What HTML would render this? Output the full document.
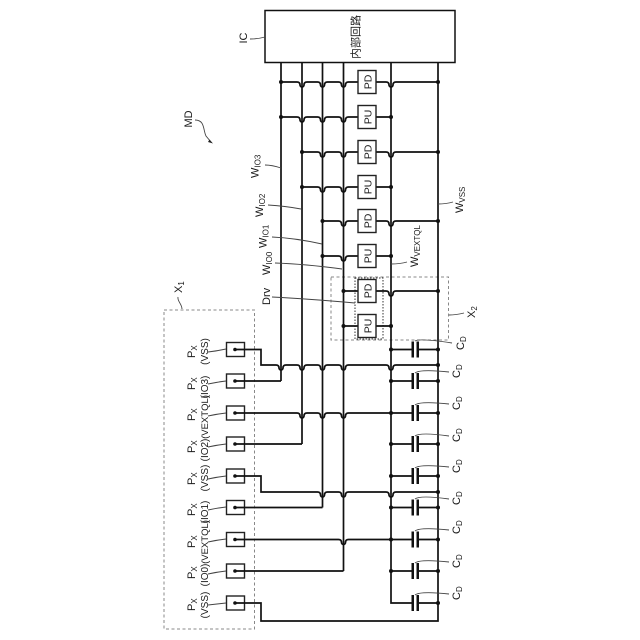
<!DOCTYPE html>
<html><head><meta charset="utf-8"><style>
html,body{margin:0;padding:0;background:#fff}
svg{display:block}
text{font-family:"Liberation Sans","Noto Sans CJK JP",sans-serif;fill:#1a1a1a;font-size:11px}
tspan.s{font-size:8px}
text.b{font-size:10.5px}
text.p{font-size:10px}
</style></head><body>
<svg width="640" height="640" viewBox="0 0 640 640" xmlns="http://www.w3.org/2000/svg">
<rect width="640" height="640" fill="#fff"/>
<!-- dashed -->
<g fill="none">
<rect x="164" y="310" width="90.5" height="319" stroke="#888" stroke-width="1" stroke-dasharray="3 2.5"/>
<rect x="331" y="277" width="117.5" height="63" stroke="#888" stroke-width="1" stroke-dasharray="3 2.5"/>
<rect x="355" y="278" width="28" height="61" stroke="#333" stroke-width="1" stroke-dasharray="1.5 1.5"/>
</g>
<!-- wires -->
<g fill="none" stroke="#111" stroke-width="1.7">
<path d="M281,62V381M302,62V444M322.500,62V507.500M343.500,62V571M391,62V603H412M438,62V621H261V603H235"/>
<path d="M281,82H297q3,0 3,3a2,2 0 0 0 4,0q0,-3 3,-3H317.500q3,0 3,3a2,2 0 0 0 4,0q0,-3 3,-3H338.500q3,0 3,3a2,2 0 0 0 4,0q0,-3 3,-3H358M376,82H386q3,0 3,3a2,2 0 0 0 4,0q0,-3 3,-3H438"/>
<path d="M281,117H297q3,0 3,3a2,2 0 0 0 4,0q0,-3 3,-3H317.500q3,0 3,3a2,2 0 0 0 4,0q0,-3 3,-3H338.500q3,0 3,3a2,2 0 0 0 4,0q0,-3 3,-3H358M376,117H391"/>
<path d="M302,152H317.500q3,0 3,3a2,2 0 0 0 4,0q0,-3 3,-3H338.500q3,0 3,3a2,2 0 0 0 4,0q0,-3 3,-3H358M376,152H386q3,0 3,3a2,2 0 0 0 4,0q0,-3 3,-3H438"/>
<path d="M302,187H317.500q3,0 3,3a2,2 0 0 0 4,0q0,-3 3,-3H338.500q3,0 3,3a2,2 0 0 0 4,0q0,-3 3,-3H358M376,187H391"/>
<path d="M322.500,221H338.500q3,0 3,3a2,2 0 0 0 4,0q0,-3 3,-3H358M376,221H386q3,0 3,3a2,2 0 0 0 4,0q0,-3 3,-3H438"/>
<path d="M322.500,256H338.500q3,0 3,3a2,2 0 0 0 4,0q0,-3 3,-3H358M376,256H391"/>
<path d="M343.500,291H358M376,291H386q3,0 3,3a2,2 0 0 0 4,0q0,-3 3,-3H438"/>
<path d="M343.500,326H358M376,326H391"/>
<!-- pad wires -->
<path d="M235,349.500H261V365H276q3,0 3,3a2,2 0 0 0 4,0q0,-3 3,-3H297q3,0 3,3a2,2 0 0 0 4,0q0,-3 3,-3H317.500q3,0 3,3a2,2 0 0 0 4,0q0,-3 3,-3H338.500q3,0 3,3a2,2 0 0 0 4,0q0,-3 3,-3H386q3,0 3,3a2,2 0 0 0 4,0q0,-3 3,-3H438"/>
<path d="M235,381H281"/>
<path d="M235,413H297q3,0 3,3a2,2 0 0 0 4,0q0,-3 3,-3H317.500q3,0 3,3a2,2 0 0 0 4,0q0,-3 3,-3H338.500q3,0 3,3a2,2 0 0 0 4,0q0,-3 3,-3H391"/>
<path d="M235,444H302"/>
<path d="M235,476H261V492H317.500q3,0 3,3a2,2 0 0 0 4,0q0,-3 3,-3H338.500q3,0 3,3a2,2 0 0 0 4,0q0,-3 3,-3H386q3,0 3,3a2,2 0 0 0 4,0q0,-3 3,-3H438"/>
<path d="M235,507.500H322.500"/>
<path d="M235,539.500H338.500q3,0 3,3a2,2 0 0 0 4,0q0,-3 3,-3H391"/>
<path d="M235,571H343.500"/>
<!-- capacitor leads -->
<path d="M391,349.500H412M418,349.500H438M391,381H412M418,381H438M391,413H412M418,413H438M391,444H412M418,444H438M391,476H412M418,476H438M391,507.500H412M418,507.500H438M391,539.500H412M418,539.500H438M391,571H412M418,571H438M418,603H438"/>
</g>
<!-- capacitor plates -->
<g fill="#111">
<rect x="411.500" y="341.500" width="2.500" height="16"/><rect x="416.500" y="341.500" width="2.500" height="16"/>
<rect x="411.500" y="373" width="2.500" height="16"/><rect x="416.500" y="373" width="2.500" height="16"/>
<rect x="411.500" y="405" width="2.500" height="16"/><rect x="416.500" y="405" width="2.500" height="16"/>
<rect x="411.500" y="436" width="2.500" height="16"/><rect x="416.500" y="436" width="2.500" height="16"/>
<rect x="411.500" y="468" width="2.500" height="16"/><rect x="416.500" y="468" width="2.500" height="16"/>
<rect x="411.500" y="499.500" width="2.500" height="16"/><rect x="416.500" y="499.500" width="2.500" height="16"/>
<rect x="411.500" y="531.500" width="2.500" height="16"/><rect x="416.500" y="531.500" width="2.500" height="16"/>
<rect x="411.500" y="563" width="2.500" height="16"/><rect x="416.500" y="563" width="2.500" height="16"/>
<rect x="411.500" y="595" width="2.500" height="16"/><rect x="416.500" y="595" width="2.500" height="16"/>
</g>
<!-- dots -->
<g fill="#111">
<circle cx="281" cy="82" r="2"/><circle cx="438" cy="82" r="2"/>
<circle cx="281" cy="117" r="2"/><circle cx="391" cy="117" r="2"/>
<circle cx="302" cy="152" r="2"/><circle cx="438" cy="152" r="2"/>
<circle cx="302" cy="187" r="2"/><circle cx="391" cy="187" r="2"/>
<circle cx="322.500" cy="221" r="2"/><circle cx="438" cy="221" r="2"/>
<circle cx="322.500" cy="256" r="2"/><circle cx="391" cy="256" r="2"/>
<circle cx="343.500" cy="291" r="2"/><circle cx="438" cy="291" r="2"/>
<circle cx="343.500" cy="326" r="2"/><circle cx="391" cy="326" r="2"/>
<circle cx="391" cy="349.500" r="2"/><circle cx="438" cy="349.500" r="2"/>
<circle cx="438" cy="365" r="2"/>
<circle cx="391" cy="381" r="2"/><circle cx="438" cy="381" r="2"/>
<circle cx="391" cy="413" r="2"/><circle cx="438" cy="413" r="2"/>
<circle cx="391" cy="444" r="2"/><circle cx="438" cy="444" r="2"/>
<circle cx="391" cy="476" r="2"/><circle cx="438" cy="476" r="2"/>
<circle cx="438" cy="492" r="2"/>
<circle cx="391" cy="507.500" r="2"/><circle cx="438" cy="507.500" r="2"/>
<circle cx="391" cy="539.500" r="2"/><circle cx="438" cy="539.500" r="2"/>
<circle cx="391" cy="571" r="2"/><circle cx="438" cy="571" r="2"/>
<circle cx="438" cy="603" r="2"/>
</g>
<!-- IC -->
<rect x="265" y="10.500" width="190" height="52" fill="#fff" stroke="#111" stroke-width="1.500"/>
<!-- PD/PU boxes -->
<g fill="#fff" stroke="#222" stroke-width="1.400">
<rect x="358" y="70.500" width="18" height="23"/><rect x="358" y="105.500" width="18" height="23"/>
<rect x="358" y="140.500" width="18" height="23"/><rect x="358" y="175.500" width="18" height="23"/>
<rect x="358" y="209.500" width="18" height="23"/><rect x="358" y="244.500" width="18" height="23"/>
<rect x="358" y="279.500" width="18" height="23"/><rect x="358" y="314.500" width="18" height="23"/>
</g>
<!-- pads -->
<g fill="#fff" stroke="#222" stroke-width="1.400">
<rect x="226.500" y="342.500" width="18" height="14"/><rect x="226.500" y="374" width="18" height="14"/>
<rect x="226.500" y="406" width="18" height="14"/><rect x="226.500" y="437" width="18" height="14"/>
<rect x="226.500" y="469" width="18" height="14"/><rect x="226.500" y="500.500" width="18" height="14"/>
<rect x="226.500" y="532.500" width="18" height="14"/><rect x="226.500" y="564" width="18" height="14"/>
<rect x="226.500" y="596" width="18" height="14"/>
</g>
<g fill="none" stroke="#111" stroke-width="1.700">
<path d="M235,349.500H245M235,381H245M235,413H245M235,444H245M235,476H245M235,507.500H245M235,539.500H245M235,571H245M235,603H245"/>
</g>
<g fill="#111">
<circle cx="235" cy="349.500" r="1.800"/><circle cx="235" cy="381" r="1.800"/><circle cx="235" cy="413" r="1.800"/>
<circle cx="235" cy="444" r="1.800"/><circle cx="235" cy="476" r="1.800"/><circle cx="235" cy="507.500" r="1.800"/>
<circle cx="235" cy="539.500" r="1.800"/><circle cx="235" cy="571" r="1.800"/><circle cx="235" cy="603" r="1.800"/>
</g>
<!-- leaders -->
<g fill="none" stroke="#444" stroke-width="0.900">
<path d="M250,39Q258,39 265,37"/>
<path d="M195,120C205,120 203,130 206,136L211,142"/>
<path d="M178,297C177,301 182,304 182,309"/>
<path d="M449,315Q456,315 464,313"/>
<path d="M265,165Q272,165 281,168"/>
<path d="M268,205Q285,206 301,209"/>
<path d="M272,237Q295,238 322,244"/>
<path d="M275,263Q305,264 342,269"/>
<path d="M272,297Q310,299 355,303"/>
<path d="M391,264Q400,264 407,262"/>
<path d="M438,204Q446,204 453,202"/>
<path d="M226,349Q217,351 208,352"/><path d="M226,381Q217,382 208,384"/><path d="M226,413Q217,414 208,416"/>
<path d="M226,444Q217,445 208,447"/><path d="M226,476Q217,477 208,479"/><path d="M226,507Q217,508 208,510"/>
<path d="M226,539Q217,540 208,542"/><path d="M226,571Q217,572 208,574"/><path d="M226,603Q217,604 208,605"/>
<path d="M415,341Q420,338 452,343"/><path d="M415,373Q420,369 449,372"/><path d="M415,405Q420,401 449,404"/>
<path d="M415,436Q420,432 449,436"/><path d="M415,468Q420,464 449,467"/><path d="M415,499Q420,495 449,499"/>
<path d="M415,531Q420,527 449,530"/><path d="M415,563Q420,559 449,562"/><path d="M415,595Q420,591 449,594"/>
</g>
<path d="M209.500,139.500L213,143.500L208,142Z" fill="#222"/>
<!-- labels -->
<text transform="translate(247,38) rotate(-90)" text-anchor="middle">IC</text>
<text transform="translate(192,119) rotate(-90)" text-anchor="middle">MD</text>
<text transform="translate(359.500,37) rotate(-90)" text-anchor="middle">内部回路</text>
<text class="b" transform="translate(371.500,82) rotate(-90)" text-anchor="middle">PD</text>
<text class="b" transform="translate(371.500,117) rotate(-90)" text-anchor="middle">PU</text>
<text class="b" transform="translate(371.500,152) rotate(-90)" text-anchor="middle">PD</text>
<text class="b" transform="translate(371.500,187) rotate(-90)" text-anchor="middle">PU</text>
<text class="b" transform="translate(371.500,221) rotate(-90)" text-anchor="middle">PD</text>
<text class="b" transform="translate(371.500,256) rotate(-90)" text-anchor="middle">PU</text>
<text class="b" transform="translate(371.500,291) rotate(-90)" text-anchor="middle">PD</text>
<text class="b" transform="translate(371.500,326) rotate(-90)" text-anchor="middle">PU</text>
<text transform="translate(258.500,178) rotate(-90)">W<tspan class="s" dy="2">IO3</tspan></text>
<text transform="translate(263,217) rotate(-90)">W<tspan class="s" dy="2">IO2</tspan></text>
<text transform="translate(266.500,248) rotate(-90)">W<tspan class="s" dy="2">IO1</tspan></text>
<text transform="translate(270,275) rotate(-90)">W<tspan class="s" dy="2">IO0</tspan></text>
<text transform="translate(270,305) rotate(-90)">Drv</text>
<text transform="translate(418,267) rotate(-90)">W<tspan class="s" dy="2">VEXTQL</tspan></text>
<text transform="translate(463,213) rotate(-90)">W<tspan class="s" dy="2">VSS</tspan></text>
<text transform="translate(182,293) rotate(-90)">X<tspan class="s" dy="2">1</tspan></text>
<text transform="translate(475,318) rotate(-90)">X<tspan class="s" dy="2">2</tspan></text>
<text transform="translate(195,358) rotate(-90)">P<tspan class="s" dy="2">X</tspan></text>
<text transform="translate(195,390) rotate(-90)">P<tspan class="s" dy="2">X</tspan></text>
<text transform="translate(195,421) rotate(-90)">P<tspan class="s" dy="2">X</tspan></text>
<text transform="translate(195,453) rotate(-90)">P<tspan class="s" dy="2">X</tspan></text>
<text transform="translate(195,485) rotate(-90)">P<tspan class="s" dy="2">X</tspan></text>
<text transform="translate(195,516) rotate(-90)">P<tspan class="s" dy="2">X</tspan></text>
<text transform="translate(195,548) rotate(-90)">P<tspan class="s" dy="2">X</tspan></text>
<text transform="translate(195,579) rotate(-90)">P<tspan class="s" dy="2">X</tspan></text>
<text transform="translate(195,611) rotate(-90)">P<tspan class="s" dy="2">X</tspan></text>
<text class="p" transform="translate(208,351.500) rotate(-90)" text-anchor="middle">(VSS)</text>
<text class="p" transform="translate(208,387) rotate(-90)" text-anchor="middle">(IO3)</text>
<text class="p" transform="translate(208,417) rotate(-90)" text-anchor="middle" style="font-size:9.5px">(VEXTQL)</text>
<text class="p" transform="translate(208,450) rotate(-90)" text-anchor="middle">(IO2)</text>
<text class="p" transform="translate(208,478) rotate(-90)" text-anchor="middle">(VSS)</text>
<text class="p" transform="translate(208,512) rotate(-90)" text-anchor="middle">(IO1)</text>
<text class="p" transform="translate(208,542) rotate(-90)" text-anchor="middle" style="font-size:9.5px">(VEXTQL)</text>
<text class="p" transform="translate(208,575) rotate(-90)" text-anchor="middle">(IO0)</text>
<text class="p" transform="translate(208,605) rotate(-90)" text-anchor="middle">(VSS)</text>
<text transform="translate(464,350) rotate(-90)">C<tspan class="s" dy="2">D</tspan></text>
<text transform="translate(460,378) rotate(-90)">C<tspan class="s" dy="2">D</tspan></text>
<text transform="translate(460,410) rotate(-90)">C<tspan class="s" dy="2">D</tspan></text>
<text transform="translate(460,442) rotate(-90)">C<tspan class="s" dy="2">D</tspan></text>
<text transform="translate(460,473) rotate(-90)">C<tspan class="s" dy="2">D</tspan></text>
<text transform="translate(460,505) rotate(-90)">C<tspan class="s" dy="2">D</tspan></text>
<text transform="translate(460,534) rotate(-90)">C<tspan class="s" dy="2">D</tspan></text>
<text transform="translate(460,568) rotate(-90)">C<tspan class="s" dy="2">D</tspan></text>
<text transform="translate(460,600) rotate(-90)">C<tspan class="s" dy="2">D</tspan></text>
</svg>
</body></html>
